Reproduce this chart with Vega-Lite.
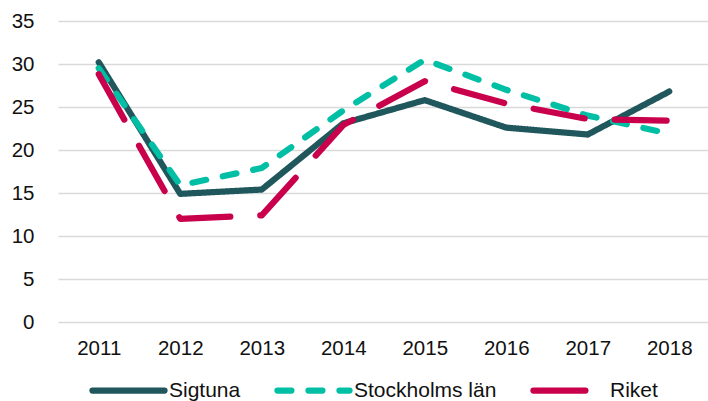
{
  "$schema": "https://vega.github.io/schema/vega-lite/v6.json",
  "autosize": {"type": "none"},
  "padding": {"left": 58, "top": 21, "right": 0, "bottom": 80},
  "width": 652,
  "height": 301,
  "background": "white",
  "config": {
    "view": {"stroke": null},
    "font": "Liberation Sans",
    "axis": {"labelFont": "Liberation Sans", "labelFontSize": 20.5, "labelColor": "#111111"},
    "legend": {"labelFont": "Liberation Sans", "labelFontSize": 21, "labelColor": "#111111"}
  },
  "data": {
    "values": [
      {"year": "2011", "series": "Sigtuna", "value": 30.2},
      {"year": "2012", "series": "Sigtuna", "value": 14.9},
      {"year": "2013", "series": "Sigtuna", "value": 15.4},
      {"year": "2014", "series": "Sigtuna", "value": 23.1},
      {"year": "2015", "series": "Sigtuna", "value": 25.8},
      {"year": "2016", "series": "Sigtuna", "value": 22.6},
      {"year": "2017", "series": "Sigtuna", "value": 21.8},
      {"year": "2018", "series": "Sigtuna", "value": 26.8},
      {"year": "2011", "series": "Stockholms län", "value": 29.5},
      {"year": "2012", "series": "Stockholms län", "value": 15.9},
      {"year": "2013", "series": "Stockholms län", "value": 17.9},
      {"year": "2014", "series": "Stockholms län", "value": 24.6},
      {"year": "2015", "series": "Stockholms län", "value": 30.5},
      {"year": "2016", "series": "Stockholms län", "value": 27.0},
      {"year": "2017", "series": "Stockholms län", "value": 24.0},
      {"year": "2018", "series": "Stockholms län", "value": 21.9},
      {"year": "2011", "series": "Riket", "value": 28.8},
      {"year": "2012", "series": "Riket", "value": 12.0},
      {"year": "2013", "series": "Riket", "value": 12.4},
      {"year": "2014", "series": "Riket", "value": 22.9},
      {"year": "2015", "series": "Riket", "value": 28.0},
      {"year": "2016", "series": "Riket", "value": 25.4},
      {"year": "2017", "series": "Riket", "value": 23.6},
      {"year": "2018", "series": "Riket", "value": 23.4}
    ]
  },
  "mark": {"type": "line", "strokeWidth": 6.2, "strokeCap": "round", "strokeJoin": "round"},
  "encoding": {
    "x": {
      "field": "year", "type": "ordinal",
      "scale": {"type": "point", "padding": 0.5},
      "axis": {"title": null, "labelAngle": 0, "domain": false, "ticks": false, "labelPadding": 16, "grid": false}
    },
    "y": {
      "field": "value", "type": "quantitative",
      "scale": {"domain": [0, 35], "nice": false},
      "axis": {"title": null, "values": [0, 5, 10, 15, 20, 25, 30, 35], "domain": false, "ticks": false, "labelPadding": 24, "gridColor": "#d9d9d9", "gridWidth": 1.5}
    },
    "color": {
      "field": "series", "type": "nominal",
      "scale": {"domain": ["Sigtuna", "Stockholms län", "Riket"], "range": ["#20575c", "#00bfa5", "#c9004b"]},
      "legend": {
        "title": null, "orient": "none", "direction": "horizontal",
        "legendX": 31, "legendY": 330,
        "symbolType": "stroke", "symbolSize": 5200, "symbolStrokeWidth": 6.2,
        "labelOffset": 1, "columnPadding": 24,
        "encode": {"symbols": {"update": {"strokeCap": {"value": "round"}}}}
      }
    },
    "strokeDash": {
      "field": "series", "type": "nominal",
      "scale": {"domain": ["Sigtuna", "Stockholms län", "Riket"], "range": [[1, 0], [14, 17], [52, 30]]},
      "legend": null
    }
  }
}
